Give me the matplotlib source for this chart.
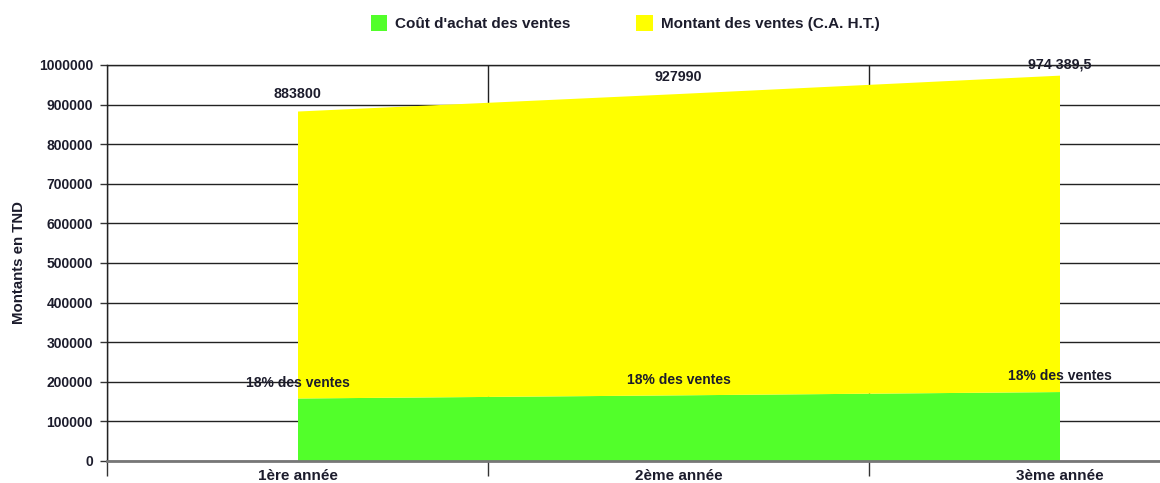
import matplotlib
matplotlib.use("Agg")
import matplotlib.pyplot as plt
from matplotlib.patches import Patch

plt.rcParams['font.family'] = ['Liberation Sans', 'DejaVu Sans']
plt.rcParams['font.weight'] = 'bold'

annees = ["1ère année", "2ème année", "3ème année"]
montant_ventes = [883800, 927990, 974389.5]
cout_achat = [159084, 167038.2, 175390.11]
labels_montant = ["883800", "927990", "974 389,5"]
labels_cout = ["18% des ventes", "18% des ventes", "18% des ventes"]
yticks = [0, 100000, 200000, 300000, 400000, 500000, 600000, 700000, 800000, 900000, 1000000]

vert = "#52FF2A"
jaune = "#FFFF00"
texte = "#1c1c2c"

fig = plt.figure(figsize=(11.6, 4.83), dpi=100)
ax = fig.add_axes([107 / 1160, 22 / 483, 1143 / 1160, 396 / 483])

x = list(range(len(annees)))
ax.fill_between(x, 0, cout_achat, color=vert, linewidth=0, zorder=2)
ax.fill_between(x, cout_achat, montant_ventes, color=jaune, linewidth=0, zorder=2)

ax.set_xlim(-0.5, 2.5)
ax.set_ylim(0, 1000000)
ax.set_yticks(yticks)
ax.set_yticklabels([str(v) for v in yticks])

# category boundaries as major ticks, names as minor ticks
ax.set_xticks([-0.5, 0.5, 1.5, 2.5])
ax.set_xticklabels([])
ax.set_xticks(x, minor=True)
ax.set_xticklabels(annees, minor=True)
ax.tick_params(axis='x', which='major', length=11, width=1, color='#333333', direction='out')
ax.tick_params(axis='x', which='minor', length=0, pad=5.5, labelsize=11, labelcolor=texte)
ax.tick_params(axis='y', length=5, width=1, color='#333333', pad=5, labelsize=10, labelcolor=texte)

ax.set_axisbelow(True)
ax.grid(True, which='major', color='#222222', linewidth=1)

for s in ['top', 'left', 'right']:
    ax.spines[s].set_color('#222222')
    ax.spines[s].set_linewidth(1)
ax.spines['bottom'].set_color('#777777')
ax.spines['bottom'].set_linewidth(2)

ax.set_ylabel("Montants en TND", fontsize=10.8, color=texte, fontweight='bold')
ax.yaxis.set_label_coords(-(107 - 26) / 1143, 0.5)

for i in x:
    # last label sits against the top of the plot area
    dy = 7 if i < 2 else 2.5
    ax.annotate(labels_montant[i], (i, montant_ventes[i]), xytext=(0, dy), textcoords='offset points',
                ha='center', va='bottom', fontsize=10.3, color=texte, zorder=5)
    ax.annotate(labels_cout[i], (i, cout_achat[i]), xytext=(0, 6), textcoords='offset points',
                ha='center', va='bottom', fontsize=10, color=texte, zorder=5)

handles = [Patch(facecolor=vert, edgecolor='none'), Patch(facecolor=jaune, edgecolor='none')]
fig.legend(handles, ["Coût d'achat des ventes", "Montant des ventes (C.A. H.T.)"],
           loc='center', bbox_to_anchor=(625 / 1160, 1 - 23 / 483), ncol=2, frameon=False,
           fontsize=11, handlelength=1.1, handleheight=1.2, handletextpad=0.5,
           columnspacing=4.3, labelcolor=texte)

fig.savefig("out.png", dpi=100)
